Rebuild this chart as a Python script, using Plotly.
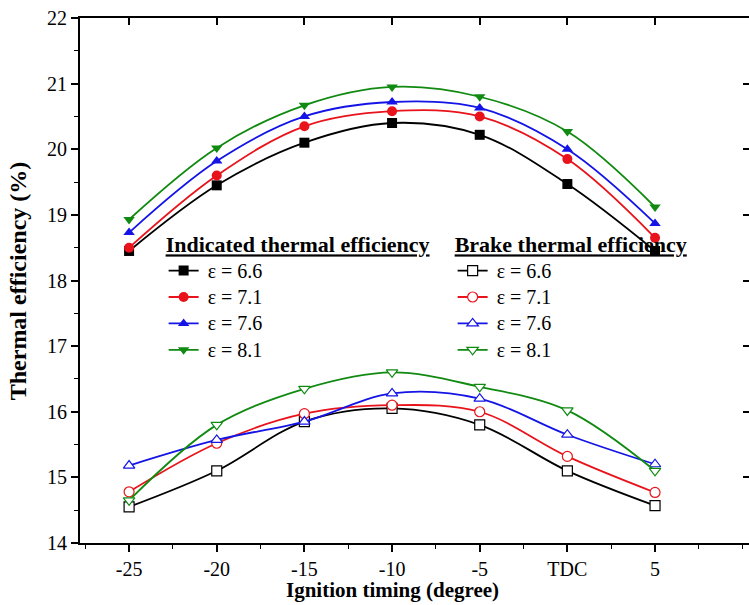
import plotly.graph_objects as go

# Ignition timing (degrees relative to TDC)
timing = [-25, -20, -15, -10, -5, 0, 5]
timing_labels = ["-25", "-20", "-15", "-10", "-5", "TDC", "5"]

ratios = ["6.6", "7.1", "7.6", "8.1"]
colors = ["#000000", "#e8131b", "#1414e6", "#108a10"]

# Indicated thermal efficiency (%)
ite_66 = [18.45, 19.45, 20.10, 20.40, 20.22, 19.47, 18.45]
ite_71 = [18.50, 19.60, 20.35, 20.58, 20.50, 19.85, 18.65]
ite_76 = [18.73, 19.82, 20.50, 20.72, 20.63, 20.00, 18.87]
ite_81 = [18.93, 20.02, 20.67, 20.95, 20.80, 20.27, 19.12]

# Brake thermal efficiency (%)
bte_66 = [14.55, 15.10, 15.85, 16.05, 15.80, 15.10, 14.57]
bte_71 = [14.78, 15.52, 15.97, 16.10, 16.00, 15.32, 14.77]
bte_76 = [15.18, 15.57, 15.85, 16.28, 16.20, 15.65, 15.20]
bte_81 = [14.65, 15.80, 16.35, 16.60, 16.38, 16.02, 15.10]

indicated = [ite_66, ite_71, ite_76, ite_81]
brake = [bte_66, bte_71, bte_76, bte_81]
filled_symbols = ["square", "circle", "triangle-up", "triangle-down"]

FONT = "Liberation Serif, Times New Roman, serif"


def entry_label(ratio):
    return f'<span style="font-size:20px">\u2009ε = {ratio}</span>'


fig = go.Figure()

for ratio, col, sym, vals in zip(ratios, colors, filled_symbols, indicated):
    fig.add_trace(go.Scatter(
        x=timing, y=vals, mode="lines+markers", name=entry_label(ratio),
        line=dict(color=col, width=1.8, shape="spline", smoothing=1.0),
        marker=dict(symbol=sym, size=10, color=col, line=dict(width=0)),
        legend="legend",
    ))

for ratio, col, sym, vals in zip(ratios, colors, filled_symbols, brake):
    fig.add_trace(go.Scatter(
        x=timing, y=vals, mode="lines+markers", name=entry_label(ratio),
        line=dict(color=col, width=1.8, shape="spline", smoothing=1.0),
        marker=dict(symbol=sym, size=10, color="white", line=dict(width=1.2, color=col)),
        legend="legend2",
    ))

# empty trace so the mirrored top/right axes are drawn
fig.add_trace(go.Scatter(x=[], y=[], xaxis="x2", yaxis="y2", showlegend=False))

x_range = [-27.8, 10.36]
y_range = [14, 22]

fig.update_layout(
    width=749, height=605,
    margin=dict(l=80, r=0, t=18, b=62),
    paper_bgcolor="white", plot_bgcolor="white",
    font=dict(family=FONT, size=20, color="black"),
    xaxis=dict(
        range=x_range, tickmode="array", tickvals=timing, ticktext=timing_labels,
        ticks="outside", ticklen=7, tickwidth=1.5, tickcolor="black",
        showline=True, linewidth=2, linecolor="black", showgrid=False, zeroline=False,
        tickfont=dict(family=FONT, size=20),
        minor=dict(tickmode="linear", tick0=0, dtick=2.5, ticks="outside", ticklen=4,
                   tickwidth=1.2, tickcolor="black", showgrid=False),
    ),
    yaxis=dict(
        range=y_range, tickmode="linear", tick0=14, dtick=1,
        ticks="outside", ticklen=7, tickwidth=1.5, tickcolor="black",
        showline=True, linewidth=2, linecolor="black", showgrid=False, zeroline=False,
        tickfont=dict(family=FONT, size=20),
        minor=dict(tickmode="linear", tick0=14, dtick=0.5, ticks="outside", ticklen=4,
                   tickwidth=1.2, tickcolor="black", showgrid=False),
    ),
    xaxis2=dict(
        overlaying="x", side="top", range=x_range, tickmode="array", tickvals=timing,
        ticks="inside", ticklen=7, tickwidth=1.5, tickcolor="black", showticklabels=False,
        showline=True, linewidth=2, linecolor="black", showgrid=False, zeroline=False,
    ),
    yaxis2=dict(
        overlaying="y", side="right", range=y_range, tickmode="linear", tick0=14, dtick=1,
        ticks="inside", ticklen=6, tickwidth=1.5, tickcolor="black", showticklabels=False,
        showline=False, showgrid=False, zeroline=False,
    ),
    legend=dict(
        title=dict(text="<b><u>Indicated thermal efficiency</u></b>",
                   font=dict(family=FONT, size=22)),
        x=0.125, y=0.608, xanchor="left", yanchor="top",
        bgcolor="rgba(0,0,0,0)", borderwidth=0, tracegroupgap=0,
        font=dict(family=FONT, size=18),
    ),
    legend2=dict(
        title=dict(text="<b><u>Brake thermal efficiency</u></b>",
                   font=dict(family=FONT, size=22)),
        x=0.557, y=0.608, xanchor="left", yanchor="top",
        bgcolor="rgba(0,0,0,0)", borderwidth=0, tracegroupgap=0,
        font=dict(family=FONT, size=18),
    ),
    annotations=[
        dict(text="<b>Ignition timing (degree)</b>", xref="paper", yref="paper",
             x=(392 - 80) / 669, y=-0.09, xanchor="center", yanchor="middle",
             showarrow=False, font=dict(family=FONT, size=21)),
        dict(text="<b>Thermal efficiency (%)</b>", xref="paper", yref="paper",
             x=-0.093, y=0.5, xanchor="center", yanchor="middle", textangle=-90,
             showarrow=False, font=dict(family=FONT, size=24)),
    ],
)

fig.write_html("out.html")
